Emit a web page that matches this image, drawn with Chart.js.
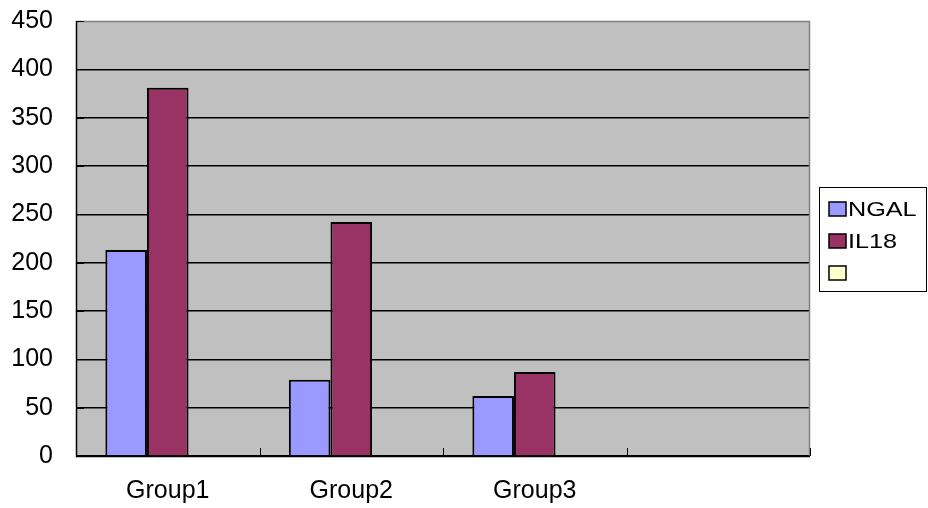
<!DOCTYPE html>
<html>
<head>
<meta charset="utf-8">
<script src="https://cdn.jsdelivr.net/npm/chart.js@4"></script>
<style>
  html, body { margin: 0; padding: 0; background: #fff; }
  #wrap { width: 928px; height: 508px; }
</style>
</head>
<body>
<div id="wrap"><canvas id="chart" width="928" height="508"></canvas></div>
<script>
const categories = ['Group1', 'Group2', 'Group3', ''];
const ngalValues = [213, 79, 62, 0];
const il18Values = [381, 242, 87, 0];
const blankValues = [0, 0, 0, 0];
const seriesNames = ['NGAL', 'IL18', ''];
const seriesColors = ['#9999FF', '#993366', '#FFFFCC'];
const yTicks = [0, 50, 100, 150, 200, 250, 300, 350, 400, 450];

const FONT = 'Arial, "Liberation Sans", sans-serif';

// grey plot background, grey frame, inside tick marks and the legend box
const plotDecor = {
    id: 'plotDecor',
    beforeDraw(chart) {
        const a = chart.chartArea;
        const c = chart.ctx;
        c.save();
        c.fillStyle = '#C0C0C0';
        c.fillRect(a.left, a.top, a.right - a.left, a.bottom - a.top);
        c.restore();
    },
    afterDatasetsDraw(chart) {
        const a = chart.chartArea;
        const c = chart.ctx;
        const x = chart.scales.x;
        const y = chart.scales.y;
        c.save();
        c.strokeStyle = '#808080';
        c.lineWidth = 1.5;
        c.beginPath();
        c.moveTo(a.left, a.top + 0.5);
        c.lineTo(a.right - 0.5, a.top + 0.5);
        c.lineTo(a.right - 0.5, a.bottom);
        c.stroke();

        c.strokeStyle = '#000';
        c.lineWidth = 1.5;
        c.beginPath();
        c.moveTo(a.left + 0.5, a.top);
        c.lineTo(a.left + 0.5, a.bottom + 0.5);
        c.lineTo(a.right, a.bottom + 0.5);
        c.stroke();

        // category separators on the x axis, pointing up
        const half = (x.getPixelForValue(1) - x.getPixelForValue(0)) / 2;
        c.lineWidth = 1;
        c.beginPath();
        for (let i = 0; i < categories.length; i++) {
            const px = Math.round(x.getPixelForValue(i) + half) + 0.5;
            c.moveTo(px, a.bottom);
            c.lineTo(px, a.bottom - 8);
        }
        // y tick marks, pointing right
        yTicks.forEach(function(v) {
            const py = Math.round(y.getPixelForValue(v)) + 0.5;
            c.moveTo(a.left, py);
            c.lineTo(a.left + 8, py);
        });
        c.stroke();

        // legend
        const lx = 819, ly = 187, lw = 108, lh = 105;
        c.fillStyle = '#fff';
        c.fillRect(lx, ly, lw, lh);
        c.strokeStyle = '#000';
        c.lineWidth = 1;
        c.strokeRect(lx + 0.5, ly + 0.5, lw - 1, lh - 1);
        c.textBaseline = 'alphabetic';
        c.textAlign = 'left';
        chart.data.datasets.forEach(function(ds, i) {
            const top = 202 + i * 32;
            c.fillStyle = ds.backgroundColor;
            c.fillRect(829, top, 17, 14);
            c.lineWidth = 1.5;
            c.strokeStyle = '#000';
            c.strokeRect(829, top, 17, 14);
            c.save();
            c.translate(848, top + 14);
            c.scale(1.2, 1);
            c.font = '21px ' + FONT;
            c.fillStyle = '#000';
            c.fillText(ds.label, 0, 0);
            c.restore();
        });
        c.restore();
    }
};

const datasets = [ngalValues, il18Values, blankValues].map(function(vals, i) {
    return {
        label: seriesNames[i],
        data: vals,
        backgroundColor: seriesColors[i],
        borderColor: '#000',
        borderWidth: 2,
        borderSkipped: 'bottom',
        categoryPercentage: 0.68,
        barPercentage: 1.0
    };
});

new Chart(document.getElementById('chart'), {
    type: 'bar',
    data: { labels: categories, datasets: datasets },
    plugins: [plotDecor],
    options: {
        responsive: false,
        animation: false,
        layout: { padding: { left: 0, right: 118, top: 0, bottom: 0 } },
        plugins: {
            legend: { display: false },
            tooltip: { enabled: false }
        },
        scales: {
            x: {
                grid: { display: false },
                border: { display: false },
                ticks: {
                    color: '#000',
                    font: { family: FONT, size: 25 },
                    padding: 12,
                    maxRotation: 0
                },
                afterFit(scale) { scale.height = 52; }
            },
            y: {
                min: 0,
                max: 450,
                afterBuildTicks(scale) {
                    scale.ticks = yTicks.map(function(v) { return { value: v }; });
                },
                grid: {
                    drawTicks: false,
                    lineWidth: 1.5,
                    color: function(ctx) {
                        return ctx.tick && ctx.tick.value === 450 ? 'rgba(0,0,0,0)' : '#000';
                    }
                },
                border: { display: false },
                ticks: {
                    color: '#000',
                    font: { family: FONT, size: 25 },
                    padding: 23
                },
                afterFit(scale) {
                    scale.width = 76;
                    scale.paddingTop = 21;
                    scale.paddingBottom = 0;
                }
            }
        }
    }
});
</script>
</body>
</html>
